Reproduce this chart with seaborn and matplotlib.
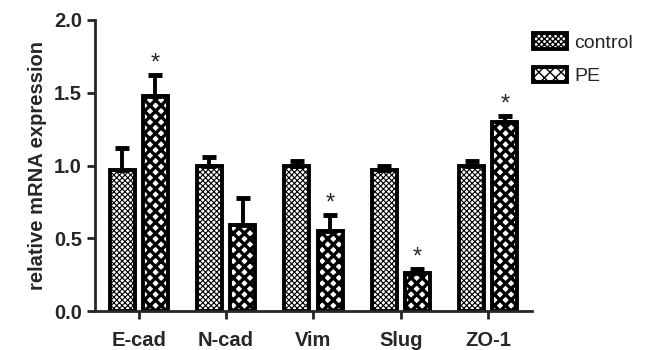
import matplotlib
matplotlib.use("Agg")
import matplotlib.pyplot as plt
import matplotlib.patches as mpatches
import pandas as pd
import seaborn as sns

# Data
genes = ["E-cad", "N-cad", "Vim", "Slug", "ZO-1"]
control_mean = [0.97, 1.00, 1.00, 0.97, 1.00]
control_err = [0.15, 0.06, 0.03, 0.03, 0.03]
pe_mean = [1.48, 0.59, 0.55, 0.26, 1.30]
pe_err = [0.14, 0.19, 0.11, 0.03, 0.04]
pe_signif = [True, False, True, True, True]

groups = ["control", "PE"]
hatches = {"control": "xxxxxx", "PE": "xxx"}
hatch_lw = {"control": 0.8, "PE": 2.4}

df = pd.DataFrame({
    "gene": genes * 2,
    "group": ["control"] * len(genes) + ["PE"] * len(genes),
    "value": control_mean + pe_mean,
    "err": control_err + pe_err,
})

sns.set_style("ticks")
plt.rcParams["font.family"] = ["Liberation Sans", "DejaVu Sans"]

fig = plt.figure(figsize=(6.51, 3.5), dpi=100)
ax = fig.add_axes([0.146, 0.111, 0.671, 0.832])

sns.barplot(data=df, x="gene", y="value", hue="group", hue_order=groups,
            order=genes, palette=["white", "white"], width=0.76, gap=0.245,
            errorbar=None, edgecolor="black", linewidth=2.8, legend=False, ax=ax)

# style bars and add one-sided error bars
for container, grp in zip(ax.containers, groups):
    sub = df[df["group"] == grp].set_index("gene").loc[genes]
    xs = []
    for bar in container:
        bar.set_hatch(hatches[grp])
        if hasattr(bar, "set_hatch_linewidth"):
            bar.set_hatch_linewidth(hatch_lw[grp])
        xs.append(bar.get_x() + bar.get_width() / 2)
    ax.errorbar(xs, sub["value"], yerr=[[0] * len(xs), sub["err"]], fmt="none",
                ecolor="black", elinewidth=2.8, capsize=5, capthick=3.5, zorder=1)
    if grp == "PE":
        for x, v, e, s in zip(xs, sub["value"], sub["err"], pe_signif):
            if s:
                ax.text(x, v + e + 0.08, "*", ha="center", va="center", fontsize=17)

ax.set_ylim(0, 2.0)
ax.set_xlim(-0.5, 4.5)
ax.set_yticks([0.0, 0.5, 1.0, 1.5, 2.0])
ax.set_yticklabels(["0.0", "0.5", "1.0", "1.5", "2.0"])
ax.set_xlabel("")
ax.set_ylabel("relative mRNA expression", fontsize=14.5, fontweight="bold", labelpad=5)
for lab in ax.get_xticklabels() + ax.get_yticklabels():
    lab.set_fontweight("bold")
    lab.set_fontsize(14.5)
ax.tick_params(axis="both", width=2, length=6, direction="out")
ax.tick_params(axis="x", pad=8)
for side in ["top", "right"]:
    ax.spines[side].set_visible(False)
for side in ["left", "bottom"]:
    ax.spines[side].set_linewidth(2)

handles = []
for grp in groups:
    p = mpatches.Patch(facecolor="white", edgecolor="black", linewidth=2.8,
                       hatch=hatches[grp], label=grp)
    if hasattr(p, "set_hatch_linewidth"):
        p.set_hatch_linewidth(hatch_lw[grp])
    handles.append(p)
fig.legend(handles=handles, loc="upper left", bbox_to_anchor=(0.815, 0.91),
           frameon=False, fontsize=14, handlelength=1.75, handleheight=0.85,
           handletextpad=0.4, labelspacing=0.75, borderpad=0.1, borderaxespad=0)

fig.savefig("out.png", dpi=100)
